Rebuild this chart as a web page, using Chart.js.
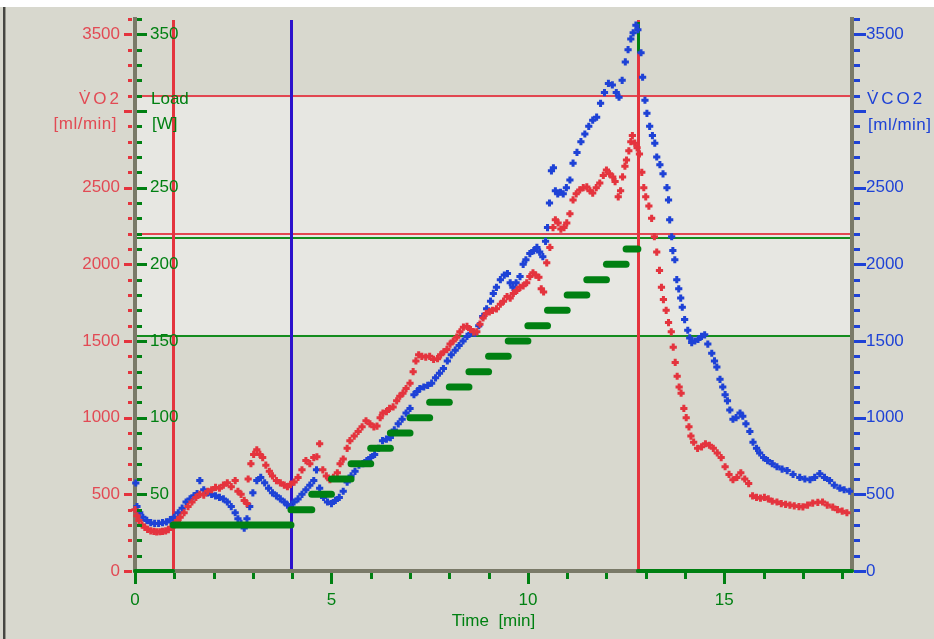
<!DOCTYPE html>
<html>
<head>
<meta charset="utf-8">
<title>Spiroergometrie</title>
<script src="https://cdn.jsdelivr.net/npm/chart.js@4.4.1/dist/chart.umd.min.js"></script>
<style>
  html, body { margin: 0; padding: 0; background: #fff; overflow: hidden; }
  #c { display: block; }
</style>
</head>
<body>
<canvas id="c" width="934" height="639" style="width:934px;height:639px"></canvas>
<script>
// ---- measured series (time in minutes) ----
const vo2Minutes = [0.00,0.05,0.10,0.18,0.25,0.32,0.40,0.48,0.55,0.63,0.70,0.78,0.85,0.92,1.00,1.08,1.15,1.25,1.35,1.45,1.55,1.65,1.75,1.85,1.95,2.05,2.15,2.25,2.35,2.45,2.55,2.62,2.70,2.78,2.85,2.88,2.95,3.02,3.10,3.18,3.25,3.33,3.42,3.50,3.60,3.70,3.80,3.88,3.96,4.05,4.15,4.25,4.35,4.45,4.55,4.63,4.70,4.78,4.87,4.96,5.05,5.15,5.22,5.30,5.40,5.47,5.58,5.68,5.78,5.88,5.98,6.08,6.16,6.24,6.31,6.40,6.48,6.57,6.66,6.74,6.82,6.90,7.00,7.08,7.15,7.22,7.30,7.40,7.50,7.60,7.70,7.78,7.86,7.94,8.02,8.10,8.19,8.27,8.36,8.45,8.54,8.62,8.70,8.78,8.86,8.94,9.02,9.10,9.20,9.30,9.38,9.47,9.55,9.63,9.72,9.80,9.88,9.97,10.05,10.13,10.20,10.28,10.34,10.40,10.48,10.56,10.64,10.70,10.77,10.84,10.92,10.99,11.07,11.15,11.23,11.32,11.41,11.50,11.58,11.65,11.74,11.83,11.92,12.00,12.08,12.16,12.22,12.30,12.36,12.41,12.47,12.51,12.57,12.62,12.66,12.72,12.78,12.84,12.90,12.95,13.00,13.08,13.15,13.22,13.28,13.35,13.40,13.45,13.52,13.58,13.65,13.70,13.75,13.80,13.85,13.90,13.97,14.03,14.10,14.15,14.22,14.32,14.42,14.52,14.62,14.72,14.82,14.92,15.02,15.12,15.22,15.32,15.42,15.52,15.62,15.72,15.82,15.92,16.02,16.12,16.22,16.34,16.45,16.56,16.67,16.78,16.90,17.00,17.12,17.25,17.38,17.50,17.62,17.76,17.88,18.00,18.12];
const vo2Values = [400,360,330,300,285,272,262,258,255,256,258,262,270,285,300,330,350,380,420,450,480,500,495,520,530,545,540,560,575,550,590,520,500,460,440,600,700,760,790,760,740,690,650,620,590,575,560,550,565,580,610,660,720,700,740,745,830,660,620,595,610,640,700,730,800,850,880,910,940,980,960,940,945,1000,1030,1040,1060,1070,1110,1140,1160,1190,1225,1300,1370,1410,1400,1395,1400,1380,1385,1410,1430,1445,1480,1500,1525,1560,1590,1595,1575,1560,1560,1610,1650,1680,1690,1700,1710,1740,1760,1790,1780,1810,1830,1850,1860,1880,1920,1945,1930,1915,1840,1820,2010,2110,2240,2290,2270,2230,2240,2270,2330,2420,2460,2485,2500,2505,2480,2465,2500,2530,2580,2615,2590,2570,2540,2440,2480,2570,2640,2680,2740,2800,2840,2790,2760,2720,2600,2500,2440,2380,2300,2180,2080,1960,1850,1770,1700,1620,1560,1460,1360,1270,1200,1160,1060,1000,940,880,840,800,810,830,820,800,770,740,680,630,595,610,640,600,570,490,480,475,480,470,455,450,440,435,430,425,420,418,430,443,448,450,430,417,400,390,380];

const vco2Minutes = [0.02,0.05,0.12,0.20,0.30,0.40,0.50,0.60,0.70,0.80,0.90,1.00,1.10,1.20,1.30,1.40,1.50,1.58,1.65,1.75,1.85,1.95,2.05,2.15,2.25,2.35,2.45,2.55,2.62,2.70,2.78,2.85,2.92,3.00,3.10,3.20,3.30,3.40,3.50,3.60,3.70,3.80,3.88,3.96,4.05,4.15,4.25,4.35,4.45,4.55,4.62,4.70,4.80,4.90,5.00,5.10,5.20,5.30,5.40,5.50,5.60,5.70,5.80,5.90,6.00,6.10,6.20,6.30,6.40,6.50,6.60,6.70,6.80,6.90,7.00,7.10,7.18,7.25,7.35,7.45,7.55,7.65,7.75,7.85,7.95,8.05,8.15,8.25,8.35,8.45,8.55,8.65,8.75,8.85,8.95,9.05,9.12,9.20,9.30,9.40,9.48,9.55,9.62,9.70,9.80,9.88,9.95,10.05,10.15,10.23,10.30,10.38,10.45,10.50,10.55,10.60,10.65,10.70,10.76,10.83,10.90,10.98,11.07,11.15,11.25,11.35,11.45,11.55,11.65,11.75,11.85,11.95,12.05,12.15,12.25,12.32,12.40,12.48,12.55,12.62,12.68,12.75,12.80,12.88,12.92,12.98,13.03,13.10,13.17,13.23,13.28,13.36,13.44,13.54,13.58,13.61,13.66,13.69,13.74,13.79,13.84,13.89,13.93,13.99,14.07,14.12,14.17,14.25,14.33,14.42,14.50,14.58,14.68,14.75,14.81,14.89,14.96,15.02,15.08,15.14,15.22,15.30,15.40,15.47,15.55,15.65,15.73,15.82,15.90,16.00,16.10,16.22,16.34,16.47,16.60,16.75,16.92,17.05,17.18,17.30,17.43,17.55,17.68,17.80,17.94,18.05,18.19];
const vco2Values = [574,420,380,350,330,315,310,310,315,320,335,350,380,410,450,470,490,505,590,530,510,500,490,480,470,450,420,380,340,310,280,340,420,510,590,610,575,540,510,490,470,450,430,420,450,470,500,530,560,590,660,540,480,450,440,460,480,520,580,620,650,690,700,720,740,760,800,850,860,870,920,960,990,1030,1060,1150,1170,1190,1200,1210,1225,1260,1290,1320,1370,1410,1440,1470,1500,1530,1550,1550,1600,1660,1710,1760,1810,1850,1900,1930,1940,1880,1850,1880,1920,2000,2030,2070,2090,2110,2080,2050,2150,2240,2400,2610,2630,2480,2460,2470,2460,2500,2550,2660,2730,2800,2850,2900,2940,2960,3050,3120,3180,3170,3120,3090,3200,3320,3400,3470,3510,3560,3530,3380,3220,3070,2985,2900,2840,2790,2700,2650,2590,2500,2420,2290,2180,2090,2030,1900,1840,1780,1720,1640,1570,1520,1490,1500,1510,1530,1540,1480,1420,1370,1330,1250,1200,1150,1110,1050,990,1000,1030,1010,960,910,840,800,770,740,720,700,680,665,655,630,610,600,595,610,635,610,590,560,540,530,520];

// load protocol: each step starts at the given minute and lasts until the next one
const loadStepMinutes = [0, 0.97, 3.97, 4.5, 5.0, 5.5, 6.0, 6.5, 7.0, 7.5, 8.0, 8.5, 9.0, 9.5, 10.0, 10.5, 11.0, 11.5, 12.0, 12.5, 12.8];
const loadStepWatts   = [0, 30, 40, 50, 60, 70, 80, 90, 100, 110, 120, 130, 140, 150, 160, 170, 180, 190, 200, 210, 0];

// axis ticks (the 3000 / 300 rows carry the axis captions instead)
const timeTickValues = [0, 5, 10, 15];
const vo2TickValues  = [0, 500, 1000, 1500, 2000, 2500, 3500];
const loadTickValues = [50, 100, 150, 200, 250, 350];
const vco2TickValues = [0, 500, 1000, 1500, 2000, 2500, 3500];

// markers and thresholds
const markerMinutes = [0.97, 3.97, 12.81];
const vo2Thresholds = [3090, 2190];
const loadThresholds = [218, 154];

const TIME_MAX = 18.25, VO2_MAX = 3600, LOAD_MAX = 360;

const RED = 'rgb(228,52,62)';
const RED_TXT = 'rgb(226,74,84)';
const BLUE = 'rgb(30,66,214)';
const GREEN = 'rgb(0,128,18)';
const MARK_BLUE = 'rgb(44,18,204)';
const AXIS = 'rgb(122,122,104)';
const BG = 'rgb(216,216,206)';
const BAND = 'rgb(231,231,226)';
const FONT = "'Liberation Sans', Arial, sans-serif";

function pairs(xs, ys) { return xs.map((t, i) => ({ x: t, y: ys[i] })); }

function loadSegments() {
  const out = [];
  for (let i = 0; i < loadStepMinutes.length; i++) {
    const end = i + 1 < loadStepMinutes.length ? loadStepMinutes[i + 1] : TIME_MAX;
    out.push({ x: loadStepMinutes[i], y: loadStepWatts[i] });
    out.push({ x: end, y: loadStepWatts[i] });
    out.push({ x: end, y: null });
  }
  return out;
}

function noScalePadding(s) {
  s.paddingTop = 0; s.paddingBottom = 0; s.paddingLeft = 0; s.paddingRight = 0;
}

// background, shaded zone, threshold and marker lines
const framePlugin = {
  id: 'frame',
  beforeDraw(chart) {
    const { ctx, chartArea: ca, scales } = chart;
    const yv = scales.yVO2, yl = scales.yLoad, xs = scales.x;
    ctx.save();
    ctx.fillStyle = '#ffffff';
    ctx.fillRect(0, 0, chart.width, chart.height);
    ctx.fillStyle = BG;
    ctx.fillRect(0, 7, chart.width, chart.height - 7);
    ctx.fillStyle = 'rgb(70,70,66)';
    ctx.fillRect(3, 7, 2, chart.height - 7);
    ctx.fillStyle = 'rgb(150,150,140)';
    ctx.fillRect(5, 7, 1, chart.height - 7);

    const bandTop = yv.getPixelForValue(vo2Thresholds[0]);
    const bandBottom = yl.getPixelForValue(loadThresholds[1]);
    ctx.fillStyle = BAND;
    ctx.fillRect(ca.left, bandTop, ca.right - ca.left, bandBottom - bandTop);

    ctx.lineWidth = 2;
    ctx.strokeStyle = 'rgb(226,70,80)';
    vo2Thresholds.forEach(v => {
      const y = Math.round(yv.getPixelForValue(v)) - 1;
      ctx.beginPath(); ctx.moveTo(ca.left, y); ctx.lineTo(ca.right, y); ctx.stroke();
    });
    ctx.strokeStyle = 'rgb(20,140,30)';
    loadThresholds.forEach(w => {
      const y = Math.round(yl.getPixelForValue(w)) + 1;
      ctx.beginPath(); ctx.moveTo(ca.left, y); ctx.lineTo(ca.right, y); ctx.stroke();
    });

    const markerColors = [RED, MARK_BLUE, RED];
    ctx.lineWidth = 3;
    markerMinutes.forEach((t, i) => {
      const x = Math.round(xs.getPixelForValue(t)) + 0.5;
      ctx.strokeStyle = markerColors[i];
      ctx.beginPath(); ctx.moveTo(x, ca.top + 1); ctx.lineTo(x, ca.bottom); ctx.stroke();
    });
    // green accent on top of the last marker
    const xl = Math.round(xs.getPixelForValue(markerMinutes[2])) + 0.5;
    ctx.strokeStyle = GREEN;
    ctx.beginPath(); ctx.moveTo(xl, yv.getPixelForValue(3600) + 3); ctx.lineTo(xl, yv.getPixelForValue(3380)); ctx.stroke();
    ctx.restore();
  },
  afterDraw(chart) {
    const { ctx, chartArea: ca, scales } = chart;
    const yv = scales.yVO2, yl = scales.yLoad, yr = scales.yVCO2, xs = scales.x;
    ctx.save();
    // VO2 ticks (outer side of the left axis)
    ctx.fillStyle = RED;
    for (let v = 0; v <= VO2_MAX; v += 100) {
      const y = Math.round(yv.getPixelForValue(v));
      const major = v % 500 === 0;
      ctx.fillRect(ca.left - (major ? 11 : 7), y - 1, major ? 8 : 4, 3);
    }
    // load ticks (inner side of the left axis)
    ctx.fillStyle = GREEN;
    for (let w = 0; w <= LOAD_MAX; w += 10) {
      const y = Math.round(yl.getPixelForValue(w));
      const major = w % 50 === 0;
      ctx.fillRect(ca.left + 2, y - 1, major ? 10 : 5, 3);
    }
    // VCO2 ticks
    ctx.fillStyle = BLUE;
    for (let v = 0; v <= VO2_MAX; v += 100) {
      const y = Math.round(yr.getPixelForValue(v));
      const major = v % 500 === 0;
      ctx.fillRect(ca.right + 2, y - 1, major ? 12 : 6, 3);
    }
    // time ticks
    ctx.fillStyle = GREEN;
    for (let t = 0; t <= 18; t += 1) {
      const x = Math.round(xs.getPixelForValue(t));
      const major = t % 5 === 0;
      ctx.fillRect(x - 1, ca.bottom + 2, 3, major ? 11 : 6);
    }
    // axis captions
    ctx.font = '17px ' + FONT;
    ctx.textBaseline = 'middle';
    ctx.letterSpacing = '3px';
    ctx.fillStyle = RED_TXT;
    ctx.textAlign = 'right';
    ctx.fillText('V\u0307O2', 122, 99);
    ctx.fillStyle = BLUE;
    ctx.textAlign = 'left';
    ctx.fillText('V\u0307CO2', 867, 99);
    ctx.letterSpacing = '0.5px';
    ctx.fillStyle = RED_TXT;
    ctx.textAlign = 'right';
    ctx.fillText('[ml/min]', 117, 124);
    ctx.fillStyle = BLUE;
    ctx.textAlign = 'left';
    ctx.fillText('[ml/min]', 868, 125);
    ctx.letterSpacing = '0px';
    ctx.fillStyle = GREEN;
    ctx.fillText('Load', 151, 99);
    ctx.fillText('[W]', 152, 124);
    ctx.restore();
  }
};

const tickFont = { family: FONT, size: 17 };
const crossPoint = { pointStyle: 'cross', pointRadius: 3.6, pointBorderWidth: 3, showLine: false, clip: false };

new Chart(document.getElementById('c'), {
  type: 'scatter',
  data: {
    datasets: [
      {
        label: 'Load', yAxisID: 'yLoad', order: 0, data: loadSegments(),
        showLine: true, spanGaps: false, pointRadius: 0, borderColor: GREEN,
        borderWidth: 7, borderCapStyle: 'round', clip: false,
        segment: { borderWidth: c => (c.p0.parsed.y === 0 ? 4 : 7) }
      },
      Object.assign({ label: 'VO2', yAxisID: 'yVO2', order: 1, data: pairs(vo2Minutes, vo2Values),
        borderColor: RED, backgroundColor: RED }, crossPoint),
      Object.assign({ label: 'VCO2', yAxisID: 'yVCO2', order: 2, data: pairs(vco2Minutes, vco2Values),
        borderColor: BLUE, backgroundColor: BLUE }, crossPoint)
    ]
  },
  options: {
    responsive: false,
    animation: false,
    devicePixelRatio: 1,
    layout: { padding: { top: 19, left: 0, right: 0, bottom: 0 } },
    plugins: { legend: { display: false }, tooltip: { enabled: false } },
    scales: {
      x: {
        type: 'linear', position: 'bottom', min: 0, max: TIME_MAX,
        afterBuildTicks: s => { s.ticks = timeTickValues.map(v => ({ value: v })); },
        afterFit: s => { s.height = 68; noScalePadding(s); },
        grid: { drawOnChartArea: false, drawTicks: false },
        border: { color: AXIS, width: 4 },
        ticks: { color: GREEN, font: tickFont, padding: 19, maxRotation: 0, autoSkip: false, callback: v => String(v) },
        title: { display: true, text: 'Time  [min]', color: GREEN, font: tickFont, padding: { top: 0, bottom: 7 } }
      },
      yVO2: {
        type: 'linear', position: 'left', weight: 1, min: 0, max: VO2_MAX,
        afterBuildTicks: s => { s.ticks = vo2TickValues.map(v => ({ value: v })); },
        afterFit: s => { s.width = 135; noScalePadding(s); },
        grid: { drawOnChartArea: false, drawTicks: false },
        border: { color: AXIS, width: 4 },
        ticks: { color: RED_TXT, font: tickFont, padding: 15, callback: v => String(v) }
      },
      yLoad: {
        type: 'linear', position: 'left', weight: 0, min: 0, max: LOAD_MAX,
        afterBuildTicks: s => { s.ticks = loadTickValues.map(v => ({ value: v })); },
        afterFit: s => { s.width = 0; noScalePadding(s); },
        grid: { drawOnChartArea: false, drawTicks: false },
        border: { display: false },
        ticks: { color: GREEN, font: tickFont, mirror: true, padding: 15, callback: v => String(v) }
      },
      yVCO2: {
        type: 'linear', position: 'right', min: 0, max: VO2_MAX,
        afterBuildTicks: s => { s.ticks = vco2TickValues.map(v => ({ value: v })); },
        afterFit: s => { s.width = 82; noScalePadding(s); },
        grid: { drawOnChartArea: false, drawTicks: false },
        border: { color: AXIS, width: 4 },
        ticks: { color: BLUE, font: tickFont, padding: 14, callback: v => String(v) }
      }
    }
  },
  plugins: [framePlugin]
});
</script>
</body>
</html>
